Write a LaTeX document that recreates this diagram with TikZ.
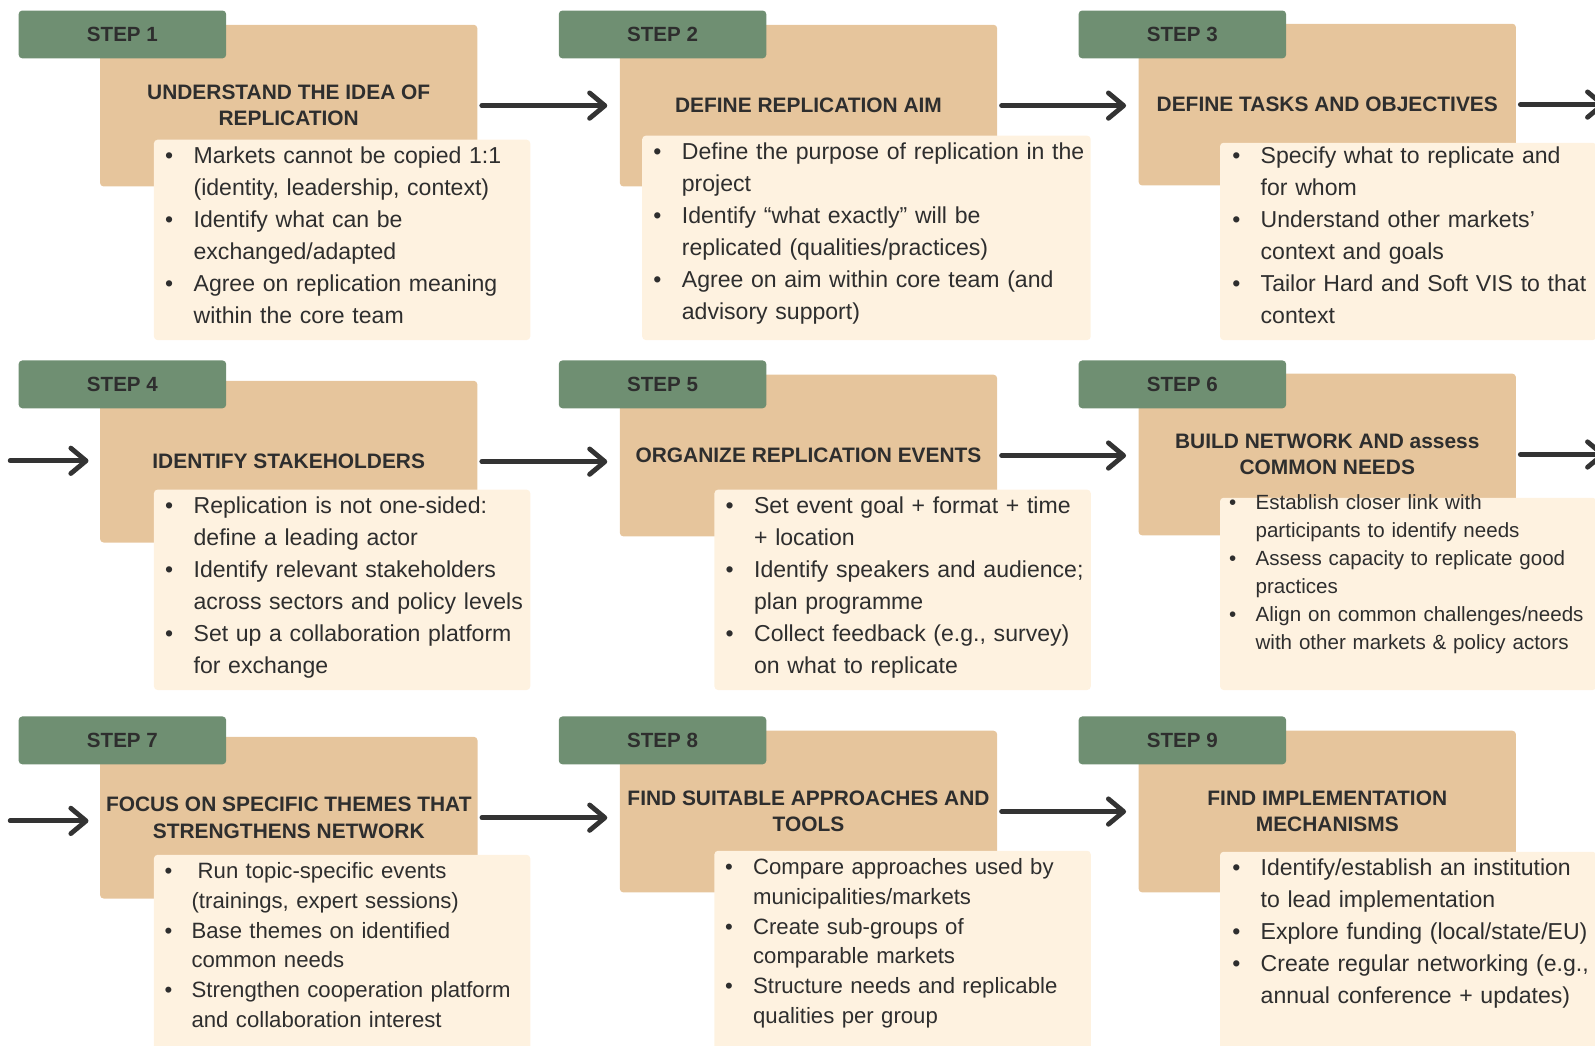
\documentclass[tikz,border=0pt]{standalone}
\usepackage{fontspec}
\setmainfont{Liberation Sans}
\usetikzlibrary{arrows.meta}

\definecolor{sage}{HTML}{6F8F72}
\definecolor{tan}{HTML}{E6C59C}
\definecolor{cream}{HTML}{FEF2E0}
\definecolor{ink}{HTML}{2E2E2E}
\definecolor{arrowgray}{HTML}{333333}

\newcommand{\bodyfont}{\fontsize{12.9}{17.86}\selectfont}
\newcommand{\smallbody}{\fontsize{12.4}{16.6}\selectfont}
\newcommand{\tinybody}{\fontsize{11.5}{15.6}\selectfont}
\newcommand{\bul}[1][0.4cm]{\leavevmode\llap{\textbullet\hspace{#1}}\ignorespaces}

\tikzset{
  steptab/.style={fill=sage,rounded corners=2pt,anchor=north west,minimum width=4.08cm,minimum height=0.94cm,
    font=\bfseries\fontsize{11.5}{14}\selectfont,text=ink},
  headbox/.style={fill=tan,rounded corners=2pt,anchor=north west,minimum width=7.42cm,minimum height=3.18cm,
    align=center,font=\bfseries\fontsize{11.7}{14.7}\selectfont,text=ink},
  listbox/.style={fill=cream,rounded corners=2pt,anchor=north west,minimum width=7.4cm,minimum height=3.94cm},
  items/.style={anchor=base west,text width=9cm,align=left,inner sep=0pt,font=\bodyfont,text=ink},
  flow/.style={draw=arrowgray,line width=2.7pt,line cap=round,-{Straight Barb[length=0.3cm,width=0.5cm,round]},
    shorten <=0.08cm,shorten >=0.24cm},
}

\begin{document}
\begin{tikzpicture}[x=0.02cm,y=-0.02cm]
  \useasboundingbox (0,0) rectangle (1568,1028);
  % title boxes
  \node[headbox] (head1) at (98,24) {UNDERSTAND THE IDEA OF\\REPLICATION};
  \node[headbox] (head2) at (609,24) {DEFINE REPLICATION AIM};
  \node[headbox] (head3) at (1119,23) {DEFINE TASKS AND OBJECTIVES};
  \node[headbox] (head4) at (98,374) {IDENTIFY STAKEHOLDERS};
  \node[headbox] (head5) at (609,368) {ORGANIZE REPLICATION EVENTS};
  \node[headbox] (head6) at (1119,367) {BUILD NETWORK AND assess\\COMMON NEEDS};
  \node[headbox] (head7) at (98,724) {FOCUS ON SPECIFIC THEMES THAT\\STRENGTHENS NETWORK};
  \node[headbox] (head8) at (609,718) {FIND SUITABLE APPROACHES AND\\TOOLS};
  \node[headbox] (head9) at (1119,718) {FIND IMPLEMENTATION\\MECHANISMS};
  % step tabs
  \node[steptab] (step1) at (18,10) {STEP 1};
  \node[steptab] (step2) at (549,10) {STEP 2};
  \node[steptab] (step3) at (1060,10) {STEP 3};
  \node[steptab] (step4) at (18,354) {STEP 4};
  \node[steptab] (step5) at (549,354) {STEP 5};
  \node[steptab] (step6) at (1060,354) {STEP 6};
  \node[steptab] (step7) at (18,704) {STEP 7};
  \node[steptab] (step8) at (549,704) {STEP 8};
  \node[steptab] (step9) at (1060,704) {STEP 9};
  % bullet boxes
  \node[listbox] (box1) at (151,137) {};
  \node[listbox,minimum width=8.82cm,minimum height=4.02cm] (box2) at (631,133) {};
  \node[listbox,minimum height=3.88cm] (box3) at (1199,140) {};
  \node[listbox] (box4) at (151,481) {};
  \node[listbox] (box5) at (702,481) {};
  \node[listbox,minimum height=3.78cm] (box6) at (1199,489) {};
  \node[listbox,minimum height=4cm] (box7) at (151,840) {};
  \node[listbox,minimum height=4cm] (box8) at (702,836) {};
  \node[listbox,minimum height=4cm] (box9) at (1199,837) {};
  % bullet texts
  \node[items] (list1) at (190,161) {\bul Markets cannot be copied 1:1\\(identity, leadership, context)\\
    \bul Identify what can be\\exchanged/adapted\\\bul Agree on replication meaning\\within the core team};
  \node[items] (list2) at (670,157) {\bul Define the purpose of replication in the\\project\\
    \bul Identify “what exactly” will be\\replicated (qualities/practices)\\\bul Agree on aim within core team (and\\advisory support)};
  \node[items] (list3) at (1239,161) {\bul Specify what to replicate and\\for whom\\
    \bul Understand other markets’\\context and goals\\\bul Tailor Hard and Soft VIS to that\\context};
  \node[items] (list4) at (190,505) {\bul Replication is not one-sided:\\define a leading actor\\
    \bul Identify relevant stakeholders\\across sectors and policy levels\\\bul Set up a collaboration platform\\for exchange};
  \node[items] (list5) at (741,505) {\bul Set event goal + format + time\\+ location\\
    \bul Identify speakers and audience;\\plan programme\\\bul Collect feedback (e.g., survey)\\on what to replicate};
  \node[items,font=\tinybody] (list6) at (1234,501) {\bul[0.38cm] Establish closer link with\\participants to identify needs\\
    \bul[0.38cm] Assess capacity to replicate good\\practices\\\bul[0.38cm] Align on common challenges/needs\\with other markets \& policy actors};
  \node[items,font=\smallbody] (list7) at (188,864) {\bul[0.38cm]\hspace{0.12cm}Run topic-specific events\\(trainings, expert sessions)\\
    \bul[0.38cm] Base themes on identified\\common needs\\\bul[0.38cm] Strengthen cooperation platform\\and collaboration interest};
  \node[items,font=\smallbody] (list8) at (740,860) {\bul Compare approaches used by\\municipalities/markets\\
    \bul Create sub-groups of\\comparable markets\\\bul Structure needs and replicable\\qualities per group};
  \node[items] (list9) at (1239,861) {\bul Identify/establish an institution\\to lead implementation\\
    \bul Explore funding (local/state/EU)\\\bul Create regular networking (e.g.,\\annual conference + updates)};
  % connectors
  \coordinate (out3) at (1590,104);
  \coordinate (in4) at (10,453);
  \coordinate (out6) at (1590,445);
  \coordinate (in7) at (10,807);
  \draw[flow] (head1.east) -- (head1.east -| head2.west);
  \draw[flow] (head2.east) -- (head2.east -| head3.west);
  \draw[flow] (head3.east) -- (head3.east -| out3);
  \draw[flow,shorten <=0pt,shorten >=0.22cm] (in4) -- (in4 -| head4.west);
  \draw[flow] (head4.east) -- (head4.east -| head5.west);
  \draw[flow] (head5.east) -- (head5.east -| head6.west);
  \draw[flow] (head6.east) -- (head6.east -| out6);
  \draw[flow,shorten <=0pt,shorten >=0.22cm] (in7) -- (in7 -| head7.west);
  \draw[flow] (head7.east) -- (head7.east -| head8.west);
  \draw[flow] (head8.east) -- (head8.east -| head9.west);
\end{tikzpicture}
\end{document}
